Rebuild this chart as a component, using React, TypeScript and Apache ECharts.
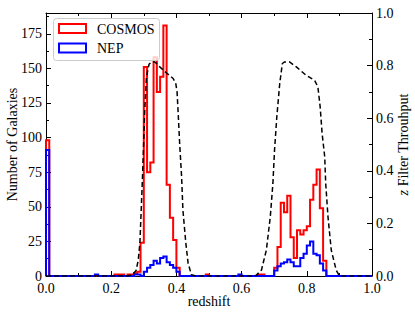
import React, { useEffect, useRef } from "react";
import * as echarts from "echarts";

// Histogram: bin width 0.01 from z = 0.00 to 1.00 (100 bins)
const binWidth = 0.01;
const cosmosCounts = [
  98, 0, 0, 0, 0, 0, 0, 0, 0, 0,
  0, 0, 0, 0, 0, 0, 0, 0, 0, 0,
  0, 1, 1, 1, 0, 1, 1, 2, 3, 24,
  151, 75, 82, 158, 133, 144, 181, 66, 42, 26,
  6, 0, 0, 0, 0, 0, 0, 0, 0, 1,
  0, 0, 0, 0, 0, 0, 0, 0, 0, 0,
  0, 0, 0, 0, 0, 1, 1, 0, 0, 0,
  6, 21, 53, 46, 58, 28, 13, 33, 30, 33,
  36, 55, 66, 77, 49, 11, 0, 0, 0, 0,
  0, 0, 0, 0, 0, 0, 0, 0, 0, 0,
];
const nepCounts = [
  91, 0, 0, 0, 0, 0, 0, 0, 0, 0,
  0, 0, 0, 0, 0, 1, 0, 0, 0, 0,
  0, 0, 0, 0, 0, 0, 0, 1, 1, 0,
  3, 6, 8, 11, 9, 13, 14, 10, 8, 6,
  3, 0, 0, 0, 0, 0, 0, 0, 0, 0,
  0, 0, 0, 0, 0, 0, 0, 0, 0, 1,
  0, 0, 0, 0, 0, 0, 0, 0, 0, 0,
  4, 7, 9, 10, 12, 10, 7, 7, 13, 16,
  22, 25, 16, 15, 9, 4, 0, 0, 0, 0,
  0, 0, 0, 0, 0, 0, 0, 0, 0, 0,
];

// z filter throughput curve
const throughputZ = [
  0.0, 0.25, 0.265, 0.276, 0.283, 0.288, 0.292, 0.296, 0.3, 0.303, 0.308, 0.316,
  0.325, 0.334, 0.349, 0.37, 0.39, 0.398, 0.402, 0.405, 0.41, 0.416, 0.42, 0.429,
  0.436, 0.446, 0.46, 0.64, 0.645, 0.661, 0.676, 0.688, 0.696, 0.701, 0.708,
  0.717, 0.725, 0.732, 0.747, 0.768, 0.798, 0.824, 0.834, 0.841, 0.847, 0.855,
  0.858, 0.865, 0.875, 0.89, 0.9, 1.0,
];
const throughputT = [
  0, 0, 0.005, 0.02, 0.06, 0.125, 0.25, 0.377, 0.52, 0.63, 0.757, 0.805,
  0.815, 0.814, 0.795, 0.772, 0.751, 0.732, 0.7, 0.63, 0.504, 0.377, 0.25, 0.124,
  0.048, 0.005, 0, 0, 0.003, 0.023, 0.099, 0.225, 0.352, 0.478, 0.605,
  0.732, 0.808, 0.814, 0.814, 0.795, 0.763, 0.744, 0.719, 0.643, 0.542, 0.453,
  0.352, 0.225, 0.099, 0.023, 0, 0,
];

const xTicks = { min: 0, max: 1, interval: 0.2 };
const yLeft = { min: 0, max: 190, interval: 25 };
const yRight = { min: 0, max: 1, interval: 0.2 };
const seriesNames = ["COSMOS", "NEP"];

const FONT = "'Liberation Serif', 'Times New Roman', serif";

function stepPoints(counts: number[]) {
  const pts: number[][] = [[0, 0]];
  counts.forEach((c, i) => {
    pts.push([+(i * binWidth).toFixed(4), c], [+((i + 1) * binWidth).toFixed(4), c]);
  });
  pts.push([+(counts.length * binWidth).toFixed(4), 0]);
  return pts;
}

export default function App() {
  const ref = useRef<HTMLDivElement>(null);
  useEffect(() => {
    document.body.style.margin = "0";
    if (!ref.current) return;
    const chart = echarts.init(ref.current, undefined, { renderer: "svg" });
    const axisCommon = {
      axisLine: { show: true, onZero: false, lineStyle: { color: "#000", width: 1 } },
      axisTick: { show: true, inside: true, length: 5, lineStyle: { color: "#000", width: 1 } },
      minorTick: { show: true, splitNumber: 2, length: 3, lineStyle: { color: "#000", width: 1 } },
      splitLine: { show: false },
      minorSplitLine: { show: false },
    };
    const labelStyle = { color: "#000", fontFamily: FONT, fontSize: 14 };
    chart.setOption({
      animation: false,
      backgroundColor: "#fff",
      grid: { left: 46, right: 43, top: 13, bottom: 39, containLabel: false, outerBoundsMode: "none" },
      xAxis: [
        {
          type: "value",
          ...xTicks,
          position: "bottom",
          ...axisCommon,
          axisLabel: {
            ...labelStyle,
            margin: 5,
            formatter: (v: number) => v.toFixed(1),
          },
          name: "redshift",
          nameLocation: "middle",
          nameGap: 18,
          nameMoveOverlap: false,
          nameTextStyle: { ...labelStyle },
        },
        {
          type: "value",
          ...xTicks,
          position: "top",
          ...axisCommon,
          axisLabel: { show: false },
        },
      ],
      yAxis: [
        {
          type: "value",
          ...yLeft,
          position: "left",
          ...axisCommon,
          axisLabel: {
            ...labelStyle,
            lineHeight: 10,
            margin: 4,
            showMaxLabel: false,
            formatter: (v: number) => (v % 25 === 0 ? String(v) : ""),
          },
          name: "Number of Galaxies",
          nameLocation: "middle",
          nameRotate: 90,
          nameGap: 27,
          nameMoveOverlap: false,
          nameTextStyle: { ...labelStyle },
        },
        {
          type: "value",
          ...yRight,
          position: "right",
          ...axisCommon,
          axisLabel: {
            ...labelStyle,
            lineHeight: 10,
            margin: 4,
            formatter: (v: number) => v.toFixed(1),
          },
          name: "{i|z} Filter Throuhput",
          nameLocation: "middle",
          nameRotate: 90,
          nameGap: 24,
          nameMoveOverlap: false,
          nameTextStyle: {
            ...labelStyle,
            rich: { i: { fontStyle: "italic", fontFamily: FONT, fontSize: 14, color: "#000" } },
          },
        },
      ],
      series: [
        {
          name: seriesNames[0],
          type: "line",
          xAxisIndex: 0,
          yAxisIndex: 0,
          data: stepPoints(cosmosCounts),
          showSymbol: false,
          lineStyle: { color: "#ff0000", width: 2, join: "miter" },
          itemStyle: { color: "#ff0000" },
          clip: true,
        },
        {
          name: seriesNames[1],
          type: "line",
          xAxisIndex: 0,
          yAxisIndex: 0,
          data: stepPoints(nepCounts),
          showSymbol: false,
          lineStyle: { color: "#0000ff", width: 2, join: "miter" },
          itemStyle: { color: "#0000ff" },
          clip: true,
        },
        {
          name: "throughput",
          type: "line",
          xAxisIndex: 0,
          yAxisIndex: 1,
          data: throughputZ.map((z, i) => [z, throughputT[i]]),
          showSymbol: false,
          lineStyle: { color: "#000", width: 1.5, type: [5, 3] },
          itemStyle: { color: "#000" },
        },
      ],
      graphic: [
        {
          type: "rect",
          z: 100,
          shape: { x: 53.5, y: 18.5, width: 106, height: 42, r: 3 },
          style: { fill: "rgba(255,255,255,0.8)", stroke: "#cccccc", lineWidth: 1 },
        },
        {
          type: "rect",
          z: 101,
          shape: { x: 59, y: 24, width: 27, height: 9 },
          style: { fill: "none", stroke: "#ff0000", lineWidth: 2 },
        },
        {
          type: "rect",
          z: 101,
          shape: { x: 59, y: 43.5, width: 27, height: 9 },
          style: { fill: "none", stroke: "#0000ff", lineWidth: 2 },
        },
        {
          type: "text",
          z: 101,
          x: 97,
          y: 29,
          style: { text: seriesNames[0], fill: "#000", font: `14px ${FONT}`, verticalAlign: "middle" },
        },
        {
          type: "text",
          z: 101,
          x: 97,
          y: 48.5,
          style: { text: seriesNames[1], fill: "#000", font: `14px ${FONT}`, verticalAlign: "middle" },
        },
      ],
    });
    return () => chart.dispose();
  }, []);
  return <div ref={ref} style={{ width: 415, height: 315 }} />;
}
